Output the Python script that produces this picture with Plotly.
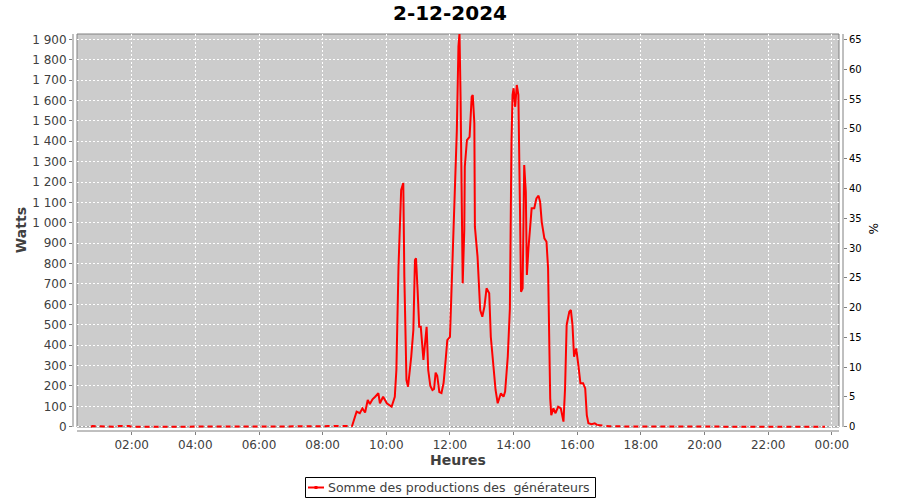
import plotly.graph_objects as go

DAY = "2024-12-02 "

# Morning night readings (near zero)
night_am_times = ["00:43", "00:46", "01:30", "01:36", "01:55", "02:00", "03:00", "04:00", "05:00",
                  "06:00", "07:00", "07:30", "08:00", "08:10", "08:30", "08:45", "08:55"]
night_am_watts = [0, 3, 0, 3, 3, 0, 0, 0, 0, 0, 0, 0, 2, 4, 5, 4, 0]

# Daytime production
day_times = ["08:55", "09:00", "09:04", "09:10", "09:15", "09:20", "09:25", "09:29", "09:34", "09:39",
             "09:42", "09:45", "09:48", "09:54", "10:01", "10:10", "10:16", "10:19", "10:23", "10:28",
             "10:32", "10:34", "10:38", "10:41", "10:47", "10:51", "10:54", "10:56", "10:59", "11:02",
             "11:05", "11:10", "11:16", "11:19", "11:23", "11:27", "11:30", "11:33", "11:36", "11:40",
             "11:44", "11:48", "11:52", "11:55", "12:00", "12:03", "12:07", "12:10", "12:13", "12:16",
             "12:18", "12:20", "12:22", "12:24", "12:27", "12:28", "12:32", "12:37", "12:41", "12:43",
             "12:46", "12:47", "12:52", "12:57", "13:01", "13:05", "13:09", "13:14", "13:17", "13:22",
             "13:26", "13:30", "13:36", "13:41", "13:44", "13:49", "13:53", "13:56", "13:58", "14:00",
             "14:03", "14:06", "14:09", "14:12", "14:14", "14:17", "14:20", "14:23", "14:25", "14:28",
             "14:31", "14:34", "14:39", "14:43", "14:47", "14:50", "14:53", "14:58", "15:02", "15:05",
             "15:09", "15:11", "15:15", "15:19", "15:24", "15:29", "15:34", "15:37", "15:40", "15:45",
             "15:48", "15:51", "15:54", "15:58", "16:02", "16:06", "16:11", "16:15", "16:18", "16:21",
             "16:27", "16:33", "16:38"]
day_watts = [0, 40, 74, 66, 90, 70, 131, 111, 134, 147,
             155, 164, 115, 147, 115, 98, 147, 278, 785, 1161,
             1195, 736, 229, 196, 343, 474, 817, 826, 670, 490,
             490, 327, 490, 278, 200, 180, 185, 265, 250, 170,
             165, 215, 330, 425, 440, 670, 950, 1194, 1455, 1864,
             1929, 1618, 1128, 703, 965, 1275, 1406, 1422, 1618, 1627,
             1488, 981, 834, 572, 539, 589, 679, 654, 441, 311,
             180, 115, 164, 147, 172, 343, 581, 1398, 1627, 1660,
             1569, 1676, 1627, 1071, 662, 679, 1283, 1152, 744, 875,
             989, 1071, 1071, 1120, 1133, 1103, 1005, 924, 907, 777,
             139, 57, 90, 66, 98, 90, 25, 188, 499, 564,
             572, 499, 343, 384, 303, 213, 213, 188, 57, 17,
             12, 17, 8]

# Evening night readings (near zero)
night_pm_times = ["16:38", "17:00", "18:00", "19:00", "20:00", "21:00", "22:00", "23:00", "23:47"]
night_pm_watts = [8, 2, 1, 0, 0, 0, 0, 0, 0]

# Axis settings
x_tick_step_ms = 2 * 3600 * 1000
y_left_ticks = list(range(0, 2000, 100))
y_right_ticks = list(range(0, 70, 5))

TITLE = "2-12-2024"
SERIES_NAME = "Somme des productions des\u00a0 générateurs"

def ts(lst):
    return [DAY + t for t in lst]

RED = "#ff0000"
GRID = "#ffffff"
AXIS = "#808080"
TXT = "#404040"
FONT = "DejaVu Sans"

fig = go.Figure()
fig.add_trace(go.Scatter(x=ts(night_am_times), y=night_am_watts, mode="lines",
                         line=dict(color=RED, width=2, dash="5px,4px"),
                         showlegend=False, hoverinfo="skip"))
fig.add_trace(go.Scatter(x=ts(night_pm_times), y=night_pm_watts, mode="lines",
                         line=dict(color=RED, width=2, dash="5px,4px"),
                         showlegend=False, hoverinfo="skip"))
fig.add_trace(go.Scatter(x=ts(day_times), y=day_watts, mode="lines",
                         line=dict(color=RED, width=2), name=SERIES_NAME, showlegend=False))
fig.add_trace(go.Scatter(x=[], y=[], yaxis="y2", showlegend=False))

W_PLOT, H_PLOT, L0, B0 = 770, 397, 73, 431

def px(xp):
    return (xp - L0) / W_PLOT

def py(yp):
    return (B0 - yp) / H_PLOT

shapes = [
    dict(type="rect", xref="paper", yref="paper", x0=px(77), x1=px(839), y0=py(427), y1=1,
         fillcolor="#cccccc", line=dict(color=AXIS, width=1), layer="below"),
    dict(type="line", xref="paper", yref="paper", x0=0, x1=0, y0=py(427), y1=1,
         line=dict(color=AXIS, width=1)),
    dict(type="line", xref="paper", yref="paper", x0=1, x1=1, y0=py(427), y1=1,
         line=dict(color=AXIS, width=1)),
    dict(type="line", xref="paper", yref="paper", x0=px(77), x1=px(839), y0=0, y1=0,
         line=dict(color=AXIS, width=1)),
    # legend box
    dict(type="rect", xref="paper", yref="paper", x0=px(305.5), x1=px(595.5), y0=py(497.5), y1=py(477.5),
         fillcolor="white", line=dict(color="#000000", width=1)),
    dict(type="line", xref="paper", yref="paper", x0=px(308), x1=px(324), y0=py(487.5), y1=py(487.5),
         line=dict(color=RED, width=2)),
    dict(type="rect", xref="paper", yref="paper", x0=px(314.5), x1=px(317.5), y0=py(489), y1=py(486),
         fillcolor=RED, line=dict(color=RED, width=0)),
]

annotations = [
    dict(text="<b>Heures</b>", xref="paper", yref="paper", x=0.5, y=-0.073,
         xanchor="center", yanchor="middle", showarrow=False,
         font=dict(family=FONT, size=14, color=TXT)),
    dict(text="<b>Watts</b>", xref="paper", yref="paper", x=-0.0675, y=0.506,
         xanchor="center", yanchor="middle", showarrow=False, textangle=-90,
         font=dict(family=FONT, size=14, color=TXT)),
    dict(text="%", xref="paper", yref="paper", x=1.039, y=0.511,
         xanchor="center", yanchor="middle", showarrow=False, textangle=90,
         font=dict(family=FONT, size=12, color="#000000")),
    dict(text=SERIES_NAME, xref="paper", yref="paper", x=px(326), y=py(487.5),
         xanchor="left", yanchor="middle", showarrow=False,
         font=dict(family=FONT, size=12.5, color=TXT)),
]

fig.update_layout(
    width=900, height=500,
    margin=dict(l=73, r=57, t=34, b=69, autoexpand=False),
    paper_bgcolor="white", plot_bgcolor="rgba(0,0,0,0)",
    separators=", ",
    showlegend=False,
    title=dict(text="<b>" + TITLE + "</b>", xref="container", yref="container",
               x=0.5, y=1 - 13 / 500, xanchor="center", yanchor="middle",
               font=dict(family=FONT, size=20, color="#000000")),
    font=dict(family=FONT, color=TXT),
    xaxis=dict(type="date",
               range=["2024-12-02 00:09:20", "2024-12-03 00:21:00"],
               tick0="2024-12-02 00:00", dtick=x_tick_step_ms, tickformat="%H:%M",
               showgrid=True, gridcolor=GRID, griddash="2px,2px", gridwidth=1,
               ticks="outside", ticklen=3, tickcolor=AXIS,
               showline=False, zeroline=False,
               tickfont=dict(family=FONT, size=12, color=TXT)),
    yaxis=dict(range=[-21.1, 1926], tickvals=y_left_ticks, tickformat=",d",
               showgrid=True, gridcolor=GRID, griddash="2px,2px", gridwidth=1,
               ticks="outside", ticklen=3, tickcolor=AXIS,
               showline=False, zeroline=False,
               tickfont=dict(family=FONT, size=12, color=TXT)),
    yaxis2=dict(range=[-0.72, 65.95], tickvals=y_right_ticks, overlaying="y", side="right",
                showgrid=False, ticks="outside", ticklen=3, tickcolor=AXIS,
                showline=False, zeroline=False,
                tickfont=dict(family=FONT, size=10, color="#000000")),
    shapes=shapes,
    annotations=annotations,
)

fig.write_html("out.html", config={"displayModeBar": False},
               post_script="document.body.style.margin='0';document.body.style.padding='0';")
